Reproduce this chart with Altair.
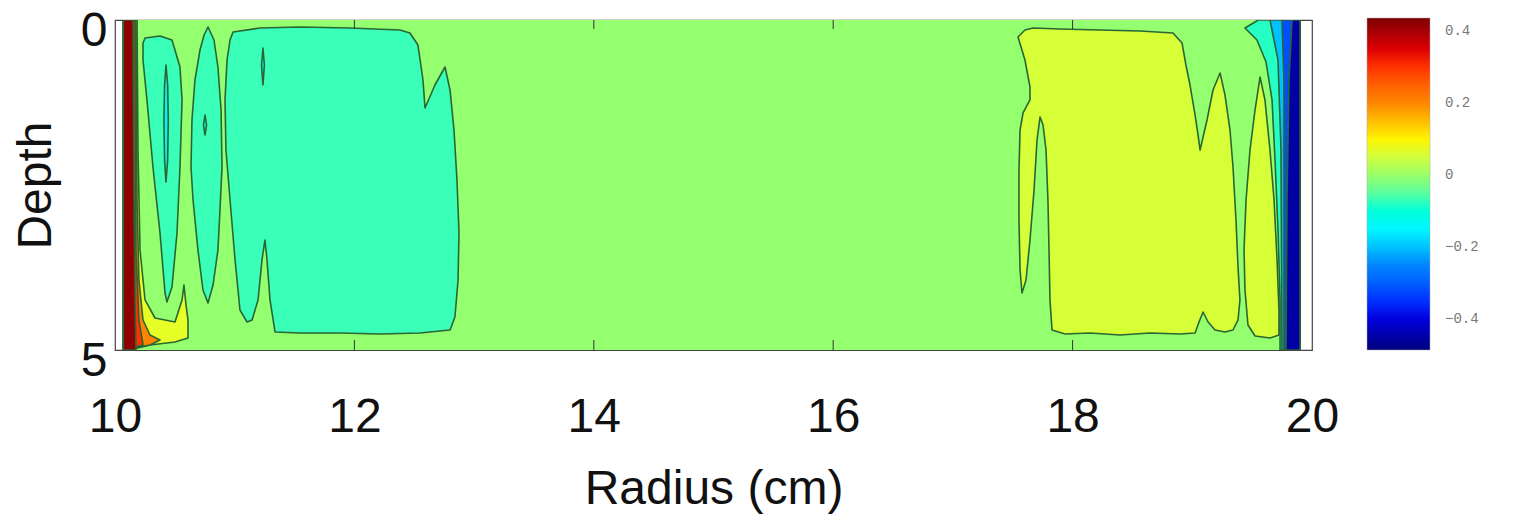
import altair as alt
import pandas as pd

# ---------------- axis / colorbar values ----------------
X_TICKS = [10, 12, 14, 16, 18, 20]
X_INNER_TICKS = [12, 14, 16, 18]
Y_TICKS = [0, 5]
CBAR_TICKS = [0.4, 0.2, 0, -0.2, -0.4]
C_MIN, C_MAX = -0.486, 0.436
JET = ["#00007F", "#0000FF", "#007FFF", "#00FFFF", "#7FFF7F",
       "#FFFF00", "#FF7F00", "#FF0000", "#7F0000"]

# ---------------- background field ----------------
BG_R = [10.07, 19.90]
BG_D = [0.0, 5.0]
BG_VALUE = -0.005

# ---------------- contour regions (radius cm, depth) ----------------
TEAL_MAIN_R = [10.986, 11.211, 11.546, 11.963, 12.381, 12.464, 12.531, 12.573, 12.590, 12.673,
               12.757, 12.799, 12.832, 12.857, 12.874, 12.866, 12.840, 12.799, 12.548, 12.214,
               11.880, 11.546, 11.337, 11.295, 11.270, 11.253, 11.228, 11.195, 11.145, 11.103,
               11.044, 11.003, 10.961, 10.927, 10.919, 10.936, 10.961]
TEAL_MAIN_D = [0.182, 0.121, 0.106, 0.121, 0.152, 0.197, 0.379, 0.909, 1.333, 0.985,
               0.712, 1.061, 1.667, 2.424, 3.227, 3.939, 4.500, 4.697, 4.742, 4.758,
               4.742, 4.742, 4.727, 4.242, 3.636, 3.333, 3.636, 4.242, 4.545, 4.576,
               4.394, 3.636, 2.727, 1.970, 1.212, 0.606, 0.303]

LOBE1_R = [10.234, 10.251, 10.376, 10.476, 10.543, 10.560, 10.543, 10.518, 10.476, 10.434,
           10.418, 10.376, 10.317, 10.267, 10.234]
LOBE1_D = [0.348, 0.273, 0.242, 0.303, 0.712, 1.212, 2.227, 3.227, 4.045, 4.273,
           4.136, 3.227, 2.227, 1.212, 0.606]

LOBE2_R = [10.777, 10.827, 10.860, 10.886, 10.894, 10.877, 10.860, 10.819, 10.777, 10.735,
           10.693, 10.652, 10.635, 10.643, 10.668, 10.710, 10.744]
LOBE2_D = [0.106, 0.303, 0.712, 1.364, 2.227, 2.879, 3.485, 4.015, 4.288, 4.091,
           3.485, 2.727, 2.227, 1.515, 0.909, 0.455, 0.227]

INNER1_R = [10.426, 10.440, 10.445, 10.440, 10.426, 10.414, 10.409, 10.414]
INNER1_D = [0.682, 0.985, 1.515, 2.121, 2.455, 2.121, 1.515, 0.985]
INNER2_R = [10.752, 10.765, 10.752, 10.739]
INNER2_D = [1.439, 1.591, 1.742, 1.591]
INNER3_R = [11.236, 11.248, 11.236, 11.224]
INNER3_D = [0.424, 0.682, 0.985, 0.682]

YELLOW_MAIN_R = [17.544, 17.602, 17.669, 17.895, 18.229, 18.563, 18.839, 18.914, 18.947, 18.981,
                 19.023, 19.048, 19.065, 19.123, 19.173, 19.232, 19.273, 19.315, 19.340, 19.365,
                 19.382, 19.398, 19.382, 19.340, 19.273, 19.190, 19.132, 19.090, 19.056, 19.023,
                 18.897, 18.647, 18.396, 18.145, 17.937, 17.828, 17.811, 17.803, 17.794, 17.778,
                 17.753, 17.728, 17.703, 17.678, 17.644, 17.611, 17.577, 17.561, 17.552, 17.552,
                 17.561, 17.586, 17.644, 17.644, 17.602]
YELLOW_MAIN_D = [0.258, 0.152, 0.121, 0.136, 0.152, 0.167, 0.197, 0.348, 0.682, 0.985,
                 1.439, 1.742, 1.970, 1.515, 1.061, 0.803, 1.136, 1.667, 2.227, 3.030,
                 3.742, 4.242, 4.545, 4.697, 4.727, 4.697, 4.576, 4.424, 4.576, 4.742,
                 4.758, 4.742, 4.773, 4.742, 4.758, 4.697, 4.242, 3.485, 2.727, 1.970,
                 1.591, 1.470, 1.818, 2.576, 3.333, 3.939, 4.136, 3.788, 3.030, 2.273,
                 1.667, 1.409, 1.212, 1.015, 0.606]

LOBE_B_R = [19.566, 19.607, 19.649, 19.683, 19.708, 19.724, 19.724, 19.649, 19.524, 19.465,
            19.440, 19.432, 19.449, 19.482, 19.524]
LOBE_B_D = [0.864, 1.212, 1.970, 2.727, 3.636, 4.394, 4.773, 4.818, 4.788, 4.621,
            4.091, 3.485, 2.727, 1.970, 1.364]

# left wall (positive levels)
LEFT_YEL_R = [10.07, 10.184, 10.192, 10.209, 10.251, 10.334, 10.501, 10.560, 10.576, 10.593,
              10.610, 10.610, 10.501, 10.292, 10.125, 10.07]
LEFT_YEL_D = [0.0, 0.0, 1.970, 3.485, 4.242, 4.515, 4.576, 4.242, 4.015, 4.318,
              4.545, 4.818, 4.879, 4.924, 5.0, 5.0]
LEFT_ORA_R = [10.07, 10.175, 10.184, 10.200, 10.234, 10.292, 10.376, 10.292, 10.07]
LEFT_ORA_D = [0.0, 0.0, 2.727, 3.939, 4.545, 4.773, 4.848, 4.924, 5.0]
LEFT_RED_R = [10.07, 10.167, 10.175, 10.200, 10.234, 10.07]
LEFT_RED_D = [0.0, 0.0, 3.485, 4.545, 4.924, 5.0]
LEFT_DRK_R = [10.07, 10.150, 10.159, 10.167, 10.175, 10.07]
LEFT_DRK_D = [0.0, 0.0, 2.727, 4.242, 5.0, 5.0]

# right wall (negative levels)
RIGHT_TEAL_R = [19.440, 19.524, 19.550, 19.900, 19.900, 19.733, 19.733, 19.716, 19.691, 19.666,
                19.616, 19.540]
RIGHT_TEAL_D = [0.121, 0.030, 0.0, 0.0, 5.0, 5.0, 4.242, 3.182, 2.121, 1.212,
                0.636, 0.303]
RIGHT_CYAN_R = [19.649, 19.900, 19.900, 19.749, 19.741, 19.716]
RIGHT_CYAN_D = [0.0, 0.0, 5.0, 5.0, 1.970, 0.606]
RIGHT_BLUE_R = [19.749, 19.900, 19.900, 19.766, 19.766, 19.766]
RIGHT_BLUE_D = [0.0, 0.0, 5.0, 5.0, 2.727, 0.909]
RIGHT_DARK_R = [19.833, 19.900, 19.900, 19.783, 19.791, 19.808]
RIGHT_DARK_D = [0.0, 0.0, 5.0, 5.0, 2.727, 0.909]

REGIONS = [
    ("01_teal_main", -0.07, TEAL_MAIN_R, TEAL_MAIN_D),
    ("02_lobe1", -0.07, LOBE1_R, LOBE1_D),
    ("03_lobe2", -0.07, LOBE2_R, LOBE2_D),
    ("04_inner1", -0.15, INNER1_R, INNER1_D),
    ("05_inner2", -0.15, INNER2_R, INNER2_D),
    ("06_inner3", -0.15, INNER3_R, INNER3_D),
    ("07_yellow_main", 0.055, YELLOW_MAIN_R, YELLOW_MAIN_D),
    ("08_lobe_b", 0.055, LOBE_B_R, LOBE_B_D),
    ("09_left_yel", 0.07, LEFT_YEL_R, LEFT_YEL_D),
    ("10_left_ora", 0.2, LEFT_ORA_R, LEFT_ORA_D),
    ("11_left_red", 0.3, LEFT_RED_R, LEFT_RED_D),
    ("12_left_drk", 0.42, LEFT_DRK_R, LEFT_DRK_D),
    ("13_right_teal", -0.08, RIGHT_TEAL_R, RIGHT_TEAL_D),
    ("14_right_cyan", -0.2, RIGHT_CYAN_R, RIGHT_CYAN_D),
    ("15_right_blue", -0.32, RIGHT_BLUE_R, RIGHT_BLUE_D),
    ("16_right_dark", -0.45, RIGHT_DARK_R, RIGHT_DARK_D),
]

rows = []
for name, val, rs, ds in REGIONS:
    for k, (r, d) in enumerate(zip(rs, ds)):
        rows.append({"id": name, "v": val, "r": r, "d": d, "k": k})
poly_df = pd.DataFrame(rows)
bg_df = pd.DataFrame({"r0": [BG_R[0]], "r1": [BG_R[1]], "d0": [BG_D[0]], "d1": [BG_D[1]], "v": [BG_VALUE]})
tick_df = pd.DataFrame({"t": X_INNER_TICKS})

n = len(JET)
stops = [C_MIN + (C_MAX - C_MIN) * i / (n - 1) for i in range(n)]
jet = alt.Scale(domain=stops, range=JET, clamp=True)
xs = alt.Scale(domain=[10, 20], nice=False, zero=False)
ys = alt.Scale(domain=[0, 5], reverse=True, nice=False, zero=False)

FONT = "Liberation Sans"
x_axis = alt.Axis(values=X_TICKS, format="d", title="Radius (cm)", grid=False, domain=False, ticks=False,
                  labelFont=FONT, labelFontSize=48, labelColor="#111", labelBaseline="alphabetic",
                  labelPadding=81, labelFlush=False, titleFont=FONT, titleFontSize=48,
                  titleFontWeight="normal", titleColor="#111", titleBaseline="alphabetic", titleY=153)
y_axis = alt.Axis(values=Y_TICKS, format="d", title="Depth", grid=False, domain=False, ticks=False,
                  labelFont=FONT, labelFontSize=48, labelColor="#111", labelBaseline="alphabetic",
                  labelAlign="right", labelPadding=8, labelOffset=25,
                  titleFont=FONT, titleFontSize=48, titleFontWeight="normal", titleColor="#111",
                  titleAngle=270, titleBaseline="alphabetic", titleAlign="center", titleX=-65, titleY=165)
legend = alt.Legend(orient="none", legendX=1252, legendY=-2, direction="vertical",
                    gradientLength=332, gradientThickness=63, values=CBAR_TICKS, title=None,
                    format=".1~f",
                    labelFont="Liberation Mono", labelFontSize=14, labelColor="#777", labelOffset=15,
                    gradientStrokeColor="#aaa", gradientStrokeWidth=0.5, padding=0)

bg = alt.Chart(bg_df).mark_rect().encode(
    x=alt.X("r0:Q", scale=xs, axis=x_axis, title="Radius (cm)"),
    x2="r1:Q",
    y=alt.Y("d0:Q", scale=ys, axis=y_axis, title="Depth"),
    y2="d1:Q",
    fill=alt.Fill("v:Q", scale=jet, legend=legend),
)

polys = alt.Chart(poly_df).mark_line(
    stroke="#2a6633", strokeWidth=1.6, strokeJoin="round", interpolate="linear-closed", clip=True
).encode(
    x=alt.X("r:Q", scale=xs, title="Radius (cm)"),
    y=alt.Y("d:Q", scale=ys, title="Depth"),
    fill=alt.Fill("v:Q", scale=jet, legend=legend),
    detail="id:N",
    order="k:Q",
)

top_ticks = alt.Chart(tick_df).mark_rule(color="#333", strokeWidth=1).encode(
    x=alt.X("t:Q", scale=xs, title="Radius (cm)"), y=alt.value(0), y2=alt.value(9))
bot_ticks = alt.Chart(tick_df).mark_rule(color="#333", strokeWidth=1).encode(
    x=alt.X("t:Q", scale=xs, title="Radius (cm)"), y=alt.value(330), y2=alt.value(320))

chart = alt.layer(bg, polys, top_ticks, bot_ticks).properties(
    width=1197, height=330,
    autosize=alt.AutoSizeParams(type="none"),
    padding={"left": 107, "top": 12, "right": 190, "bottom": 164},
    background="white",
).configure_view(stroke="#444", strokeWidth=1.2)

chart.save("out.html", embed_options={"renderer": "svg", "actions": False})
